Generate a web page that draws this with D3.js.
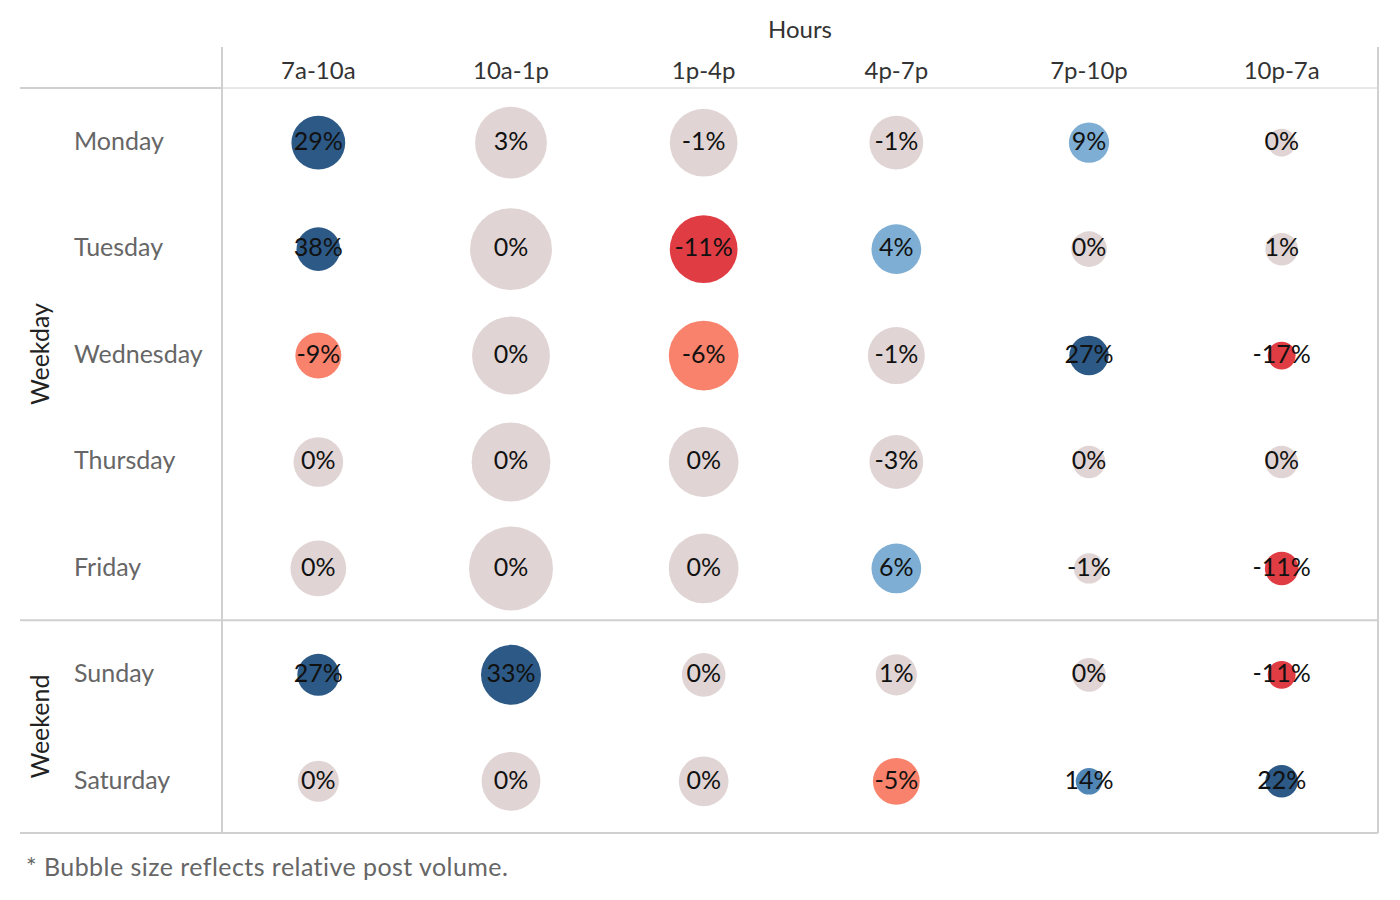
<!DOCTYPE html>
<html>
<head>
<meta charset="utf-8">
<script src="https://cdn.jsdelivr.net/npm/d3@7"></script>
<style>
  body { margin: 0; background: #fff; }
  text { font-family: Lato, "Noto Sans", sans-serif; }
</style>
</head>
<body>
<div id="chart"></div>
<script>
// columns and rows
const hours = ["7a-10a", "10a-1p", "1p-4p", "4p-7p", "7p-10p", "10p-7a"];
const days = ["Monday", "Tuesday", "Wednesday", "Thursday", "Friday", "Sunday", "Saturday"];
const groups = [
    { name: "Weekday", days: ["Monday", "Tuesday", "Wednesday", "Thursday", "Friday"] },
    { name: "Weekend", days: ["Sunday", "Saturday"] }
];

// % change per cell (row = day, col = hour block)
const change = [
    [29, 3, -1, -1, 9, 0],
    [38, 0, -11, 4, 0, 1],
    [-9, 0, -6, -1, 27, -17],
    [0, 0, 0, -3, 0, 0],
    [0, 0, 0, 6, -1, -11],
    [27, 33, 0, 1, 0, -11],
    [0, 0, 0, -5, 14, 22]
];

// relative post volume (bubble size), estimated
const volume = [
    [41, 73, 65, 41, 23, 11],
    [27, 95, 65, 35, 18, 15],
    [30, 86, 69, 46, 22, 11],
    [35, 88, 69, 41, 15, 15],
    [44, 100, 69, 35, 13, 16],
    [25, 51, 27, 24, 16, 11],
    [24, 49, 35, 31, 10, 15]
];

const width = 1400;
const height = 900;

const svg = d3.select("#chart")
    .append("svg")
    .attr("width", width)
    .attr("height", height);

const x = d3.scaleBand()
    .domain(hours)
    .range([222, 1378]);

const y = d3.scaleBand()
    .domain(days)
    .range([88, 833]);

const r = d3.scaleSqrt()
    .domain([0, 100])
    .range([0, 42]);

const color = d3.scaleThreshold()
    .domain([-9.5, -3.5, 3.5, 10, 20])
    .range(["#e03c44", "#f8826c", "#e0d5d4", "#7eaed3", "#4f86b6", "#2c5985"]);

const cells = [];
days.forEach((d, i) => {
    hours.forEach((h, j) => {
        cells.push({ day: d, hour: h, change: change[i][j], volume: volume[i][j] });
    });
});

const rowMid = d => y(d) + y.bandwidth() / 2 + 1.5;

// grid lines
const lineColor = "#d0d0d0";
svg.append("line")
    .attr("x1", 20).attr("x2", 222)
    .attr("y1", y.range()[0]).attr("y2", y.range()[0])
    .attr("stroke", lineColor).attr("stroke-width", 2);
svg.append("line")
    .attr("x1", 222).attr("x2", 1378)
    .attr("y1", y.range()[0]).attr("y2", y.range()[0])
    .attr("stroke", lineColor).attr("stroke-width", 1);

// group separators (bottom of each group)
groups.forEach(g => {
    const last = g.days[g.days.length - 1];
    const yy = y(last) + y.bandwidth();
    svg.append("line")
        .attr("x1", 20).attr("x2", 1378)
        .attr("y1", yy).attr("y2", yy)
        .attr("stroke", lineColor).attr("stroke-width", 2);
});

svg.append("line")
    .attr("x1", 222).attr("x2", 222)
    .attr("y1", 47).attr("y2", 833)
    .attr("stroke", lineColor).attr("stroke-width", 2);
svg.append("line")
    .attr("x1", 1378).attr("x2", 1378)
    .attr("y1", 47).attr("y2", 833)
    .attr("stroke", lineColor).attr("stroke-width", 2);

// header
svg.append("text")
    .attr("x", (x.range()[0] + x.range()[1]) / 2)
    .attr("y", 38)
    .attr("text-anchor", "middle")
    .attr("font-size", "24px")
    .attr("fill", "#333")
    .text("Hours");

svg.selectAll(".col-label")
    .data(hours)
    .join("text")
    .attr("class", "col-label")
    .attr("x", d => x(d) + x.bandwidth() / 2)
    .attr("y", 79)
    .attr("text-anchor", "middle")
    .attr("font-size", "24px")
    .attr("fill", "#333")
    .text(d => d);

// row labels
svg.selectAll(".row-label")
    .data(days)
    .join("text")
    .attr("class", "row-label")
    .attr("x", 74)
    .attr("y", d => rowMid(d) + 1)
    .attr("dominant-baseline", "middle")
    .attr("font-size", "25px")
    .attr("fill", "#666")
    .text(d => d);

// group labels (rotated)
groups.forEach(g => {
    const y0 = y(g.days[0]);
    const y1 = y(g.days[g.days.length - 1]) + y.bandwidth();
    svg.append("text")
        .attr("transform", `translate(43, ${(y0 + y1) / 2}) rotate(-90)`)
        .attr("text-anchor", "middle")
        .attr("dominant-baseline", "middle")
        .attr("font-size", "25px")
        .attr("fill", "#222")
        .text(g.name);
});

// bubbles
svg.selectAll(".bubble")
    .data(cells)
    .join("circle")
    .attr("class", "bubble")
    .attr("cx", d => x(d.hour) + x.bandwidth() / 2)
    .attr("cy", d => rowMid(d.day))
    .attr("r", d => r(d.volume))
    .attr("fill", d => color(d.change));

svg.selectAll(".bubble-label")
    .data(cells)
    .join("text")
    .attr("class", "bubble-label")
    .attr("x", d => x(d.hour) + x.bandwidth() / 2)
    .attr("y", d => rowMid(d.day) + 1)
    .attr("text-anchor", "middle")
    .attr("dominant-baseline", "middle")
    .attr("font-size", "25px")
    .attr("fill", "#111")
    .text(d => d.change + "%");

// footnote
svg.append("text")
    .attr("x", 26)
    .attr("y", 876)
    .attr("font-size", "25px")
    .attr("letter-spacing", "0.45px")
    .attr("fill", "#666")
    .text("* Bubble size reflects relative post volume.");
</script>
</body>
</html>
